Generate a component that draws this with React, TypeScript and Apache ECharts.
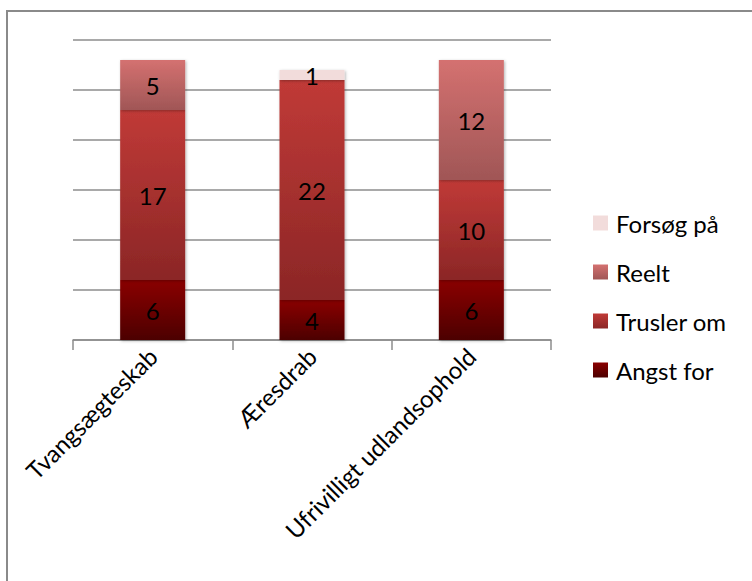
import React, { useEffect, useRef } from "react";
import * as echarts from "echarts";

const categories = ["Tvangsægteskab", "Æresdrab", "Ufrivilligt udlandsophold"];
const angstFor = [6, 4, 6];
const truslerOm = [17, 22, 10];
const reelt = [5, 0, 12];
const forsoegPaa = [0, 1, 0];
const legendOrder = ["Forsøg på", "Reelt", "Trusler om", "Angst for"];

const FONT = "Lato, 'Open Sans', sans-serif";

function grad(top: string, bottom: string) {
  return new echarts.graphic.LinearGradient(0, 0, 0, 1, [
    { offset: 0, color: top },
    { offset: 1, color: bottom },
  ]);
}

export default function App() {
  const ref = useRef<HTMLDivElement>(null);
  useEffect(() => {
    if (!ref.current) return;
    const chart = echarts.init(ref.current, undefined, { renderer: "svg" });
    const label = {
      show: true,
      position: "inside",
      color: "#000",
      fontSize: 24,
      fontFamily: FONT,
      formatter: (p: any) => (p.value ? String(p.value) : ""),
    };
    const shadow = {
      shadowColor: "rgba(0,0,0,0.3)",
      shadowBlur: 3,
      shadowOffsetX: 1,
      shadowOffsetY: 1,
    };
    const mk = (name: string, data: number[], color: any) => ({
      name,
      type: "bar",
      stack: "total",
      barWidth: 65,
      data: data.map((v) => (v === 0 ? null : v)),
      label,
      itemStyle: { color, ...shadow },
    });
    chart.setOption({
      animation: false,
      backgroundColor: "#fff",
      grid: { left: 73, right: 201, top: 40, bottom: 241 },
      graphic: [
        {
          type: "rect",
          shape: { x: 7, y: 11, width: 800, height: 700 },
          style: { fill: "none", stroke: "#8a8a8a", lineWidth: 2 },
          silent: true,
        },
      ],
      legend: {
        orient: "vertical",
        left: 588,
        top: 206,
        itemWidth: 15,
        itemHeight: 15,
        itemGap: 25,
        icon: "rect",
        data: legendOrder,
        textStyle: {
          fontSize: 24,
          fontFamily: FONT,
          color: "#000",
          lineHeight: 24,
          padding: [0, 0, 0, 3],
        },
      },
      xAxis: {
        type: "category",
        data: categories,
        axisLine: { lineStyle: { color: "#8c8c8c", width: 1.5 } },
        axisTick: { show: true, length: 10, lineStyle: { color: "#8c8c8c", width: 1.5 } },
        axisLabel: {
          interval: 0,
          rotate: 45,
          fontSize: 24,
          fontFamily: FONT,
          color: "#000",
          margin: 12,
        },
      },
      yAxis: {
        type: "value",
        min: 0,
        max: 30,
        interval: 5,
        axisLabel: { show: false },
        axisLine: { show: false },
        axisTick: { show: false },
        splitLine: { lineStyle: { color: "#8c8c8c", width: 1.5 } },
      },
      series: [
        mk("Angst for", angstFor, grad("#8a0000", "#4c0000")),
        mk("Trusler om", truslerOm, grad("#c03a37", "#8b2626")),
        mk("Reelt", reelt, grad("#d47170", "#a05656")),
        mk("Forsøg på", forsoegPaa, "#f2dcdb"),
      ],
    });
    return () => chart.dispose();
  }, []);
  return (
    <div
      ref={ref}
      style={{ position: "absolute", left: 0, top: 0, width: 752, height: 581, background: "#fff" }}
    />
  );
}
